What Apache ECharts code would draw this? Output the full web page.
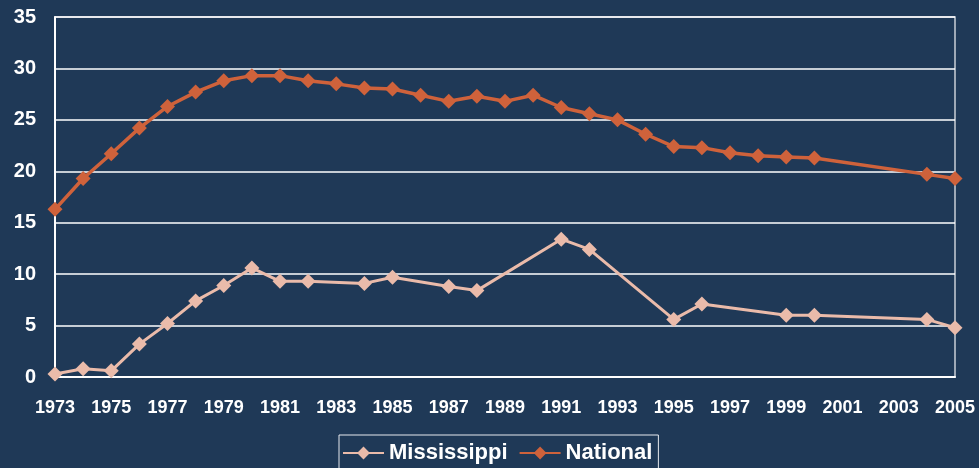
<!DOCTYPE html>
<html>
<head>
<meta charset="utf-8">
<script src="https://cdn.jsdelivr.net/npm/echarts@6/dist/echarts.min.js"></script>
<style>
  html, body { margin: 0; padding: 0; background: #1F3957; }
  #chart { width: 979px; height: 468px; }
</style>
</head>
<body>
<div id="chart"></div>
<script>
// Years on the category axis (one slot per year, labels every other year)
var years = ['1973','1974','1975','1976','1977','1978','1979','1980','1981','1982',
             '1983','1984','1985','1986','1987','1988','1989','1990','1991','1992',
             '1993','1994','1995','1996','1997','1998','1999','2000','2001','2002',
             '2003','2004','2005'];

// Mississippi values; null where no figure was reported
var mississippi = [0.3, 0.8, 0.6, 3.2, 5.2, 7.4, 8.9, 10.6, 9.3, 9.3,
                   null, 9.1, 9.7, null, 8.8, 8.4, null, null, 13.4, 12.4,
                   null, null, 5.6, 7.1, null, null, 6.0, 6.0, null, null,
                   null, 5.6, 4.8];

// National values
var national = [16.3, 19.3, 21.7, 24.2, 26.3, 27.7, 28.8, 29.3, 29.3, 28.8,
                28.5, 28.1, 28.0, 27.4, 26.8, 27.3, 26.8, 27.4, 26.2, 25.6,
                25.0, 23.6, 22.4, 22.3, 21.8, 21.5, 21.4, 21.3, null, null,
                null, 19.7, 19.3];

var yTicks = { min: 0, max: 35, step: 5 };

var font = '"Liberation Sans", Arial, sans-serif';

var chart = echarts.init(document.getElementById('chart'), null, { renderer: 'canvas' });

chart.setOption({
  backgroundColor: '#1F3957',
  animation: false,
  grid: {
    left: 55, right: 24, top: 17, bottom: 91,
    show: true,
    borderColor: '#c9ced6',
    borderWidth: 1.5
  },
  legend: {
    data: ['Mississippi', 'National'],
    left: 339,
    top: 435,
    padding: [7, 6, 8, 3],
    itemWidth: 41,
    itemHeight: 16,
    itemGap: 11,
    borderColor: '#e6e9ee',
    borderWidth: 1,
    textStyle: { color: '#ffffff', fontSize: 22, fontWeight: 'bold', fontFamily: font }
  },
  xAxis: {
    type: 'category',
    data: years,
    boundaryGap: false,
    axisLine: { show: true, lineStyle: { color: '#ffffff', width: 2 } },
    axisTick: { show: false },
    axisLabel: {
      interval: 1,
      margin: 22,
      color: '#ffffff',
      fontSize: 18,
      fontWeight: 'bold',
      fontFamily: font
    },
    splitLine: { show: false }
  },
  yAxis: {
    type: 'value',
    min: yTicks.min,
    max: yTicks.max,
    interval: yTicks.step,
    axisLine: { show: true, lineStyle: { color: '#ffffff', width: 2 } },
    axisTick: { show: false },
    axisLabel: {
      margin: 19,
      color: '#ffffff',
      fontSize: 20,
      fontWeight: 'bold',
      fontFamily: font
    },
    splitLine: { show: true, lineStyle: { color: '#ffffff', width: 1.5 } }
  },
  series: [
    {
      name: 'Mississippi',
      type: 'line',
      data: mississippi,
      connectNulls: true,
      symbol: 'diamond',
      symbolSize: 15,
      color: '#EABBAA',
      lineStyle: { width: 3, color: '#EABBAA' },
      itemStyle: { color: '#EABBAA' }
    },
    {
      name: 'National',
      type: 'line',
      data: national,
      connectNulls: true,
      symbol: 'diamond',
      symbolSize: 15,
      color: '#CF623B',
      lineStyle: { width: 3.5, color: '#CF623B' },
      itemStyle: { color: '#CF623B' }
    }
  ]
});
</script>
</body>
</html>
